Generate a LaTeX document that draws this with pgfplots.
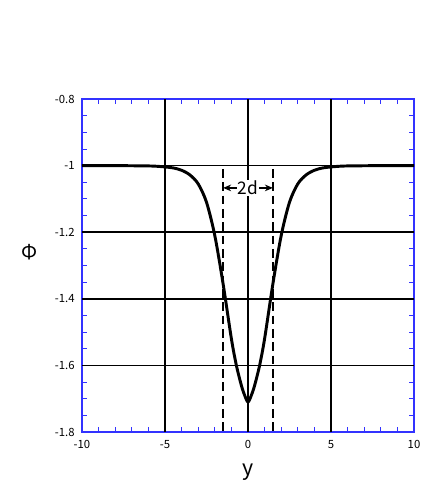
\documentclass[border=0pt]{standalone}
\usepackage{fontspec}
\setmainfont{Noto Sans CJK JP}
\usepackage{pgfplots}
\pgfplotsset{compat=1.18}
\usetikzlibrary{arrows.meta}
\definecolor{frameblue}{RGB}{50,50,255}
\begin{document}
\begin{tikzpicture}[x=1pt,y=1pt]
\path[use as bounding box] (-61.5,-45.75) rectangle (265.5,324);
\begin{axis}[
  at={(0,0)}, anchor=south west,
  scale only axis, width=249pt, height=249.75pt,
  xmin=-10, xmax=10, ymin=-1.8, ymax=-0.8,
  xtick={-10,-5,0,5,10},
  ytick={-1.8,-1.6,-1.4,-1.2,-1,-0.8},
  minor x tick num=4, minor y tick num=3,
  tick align=inside,
  axis line style={frameblue, line width=1.2pt},
  major tick style={black, line width=0.8pt},
  minor tick style={frameblue, line width=0.6pt},
  major tick length=4pt, minor tick length=3.5pt,
  /pgf/number format/assume math mode=true,
  tick label style={font=\fontsize{8.5}{9}\selectfont},
  xticklabel style={yshift=-3pt},
  yticklabel style={xshift=-2pt},
  extra x ticks={-5,0,5}, extra x tick labels={},
  extra y ticks={-1.6,-1.4,-1.2,-1}, extra y tick labels={},
  extra tick style={grid=major, major grid style={black, line width=1.1pt}, major tick length=0pt},
  clip=false,
]
\addplot[black, line width=1.3pt, dash pattern=on 6.5pt off 3.5pt] coordinates {(-1.5,-1.01) (-1.5,-1.8)};
\addplot[black, line width=1.3pt, dash pattern=on 6.5pt off 3.5pt] coordinates {(1.5,-1.01) (1.5,-1.8)};
\addplot[black, line width=2.2pt, smooth, line join=round] coordinates {
(-10,-1) (-8,-1) (-7,-1.0005) (-6,-1.001) (-5.5,-1.002) (-5,-1.004) (-4.5,-1.007) (-4,-1.014) (-3.5,-1.028) (-3,-1.055) (-2.5,-1.11) (-2,-1.21) (-1.5,-1.355) (-1,-1.52) (-0.7,-1.6) (-0.4,-1.66) (-0.2,-1.69) (0,-1.71)
(0.2,-1.69) (0.4,-1.66) (0.7,-1.6) (1,-1.52) (1.5,-1.355) (2,-1.21) (2.5,-1.11) (3,-1.055) (3.5,-1.028) (4,-1.014) (4.5,-1.007) (5,-1.004) (5.5,-1.002) (6,-1.001) (7,-1.0005) (8,-1) (10,-1)};
\draw[black, line width=1pt, {Stealth[length=6pt,width=5pt]}-{Stealth[length=6pt,width=5pt]}] (axis cs:-1.5,-1.067) -- (axis cs:1.5,-1.067) node[midway, fill=white, inner sep=0.5pt, font=\fontsize{13}{14}\selectfont]{2d};
\node[font=\fontsize{16}{18}\selectfont] at (axis description cs:0.5,-0.12) {y};
\node[font=\fontsize{15}{17}\selectfont] at (axis description cs:-0.157,0.54) {Φ};
\end{axis}
\end{tikzpicture}
\end{document}
